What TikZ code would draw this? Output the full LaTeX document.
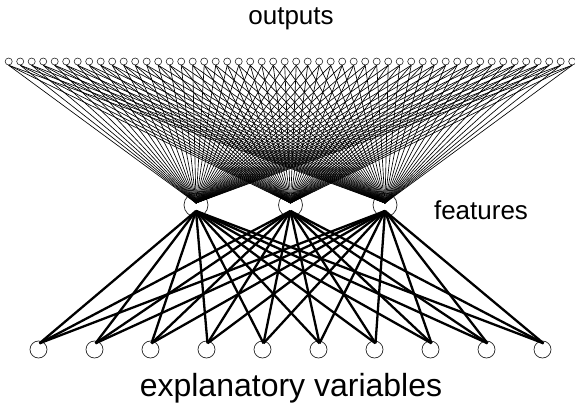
\documentclass[tikz,border=0pt]{standalone}
\usepackage{fontspec}
\setmainfont{Liberation Sans}
\begin{document}
\begin{tikzpicture}[x=1pt,y=1pt,
  outnode/.style={circle,draw=black!85,line width=0.6pt,minimum size=7pt,inner sep=0pt},
  featnode/.style={circle,draw=black!85,line width=0.7pt,minimum size=24pt,inner sep=0pt},
  varnode/.style={circle,draw=black!85,line width=0.7pt,minimum size=17pt,inner sep=0pt},
  thinedge/.style={line width=0.65pt,draw=black},
  thickedge/.style={line width=2.3pt,draw=black},
  lab/.style={font=\fontsize{26}{30}\selectfont,inner sep=0pt},
  biglab/.style={font=\fontsize{32}{36}\selectfont,inner sep=0pt}]
\useasboundingbox (0,0) rectangle (575,407);
% output nodes
\foreach \j in {0,...,49} {
  \node[outnode] (o\j) at ({8.7+11.5*\j},345.5) {};
}
% feature nodes
\foreach \i/\x in {1/196,2/290.5,3/385} {
  \node[featnode] (f\i) at (\x,202) {};
  \coordinate (ft\i) at (\x,204);
  \coordinate (fb\i) at (\x,196);
}
% explanatory variable nodes
\foreach \k in {0,...,9} {
  \node[varnode] (v\k) at ({38.5+56*\k},57.5) {};
  \coordinate (vt\k) at ({39.5+56*\k},63.7);
}
% edges features -> outputs
\foreach \i in {1,2,3} {
  \foreach \j in {0,...,49} {
    \draw[thinedge] (ft\i) -- (o\j.south);
  }
}
% edges variables -> features
\foreach \i in {1,2,3} {
  \foreach \k in {0,...,9} {
    \draw[thickedge] (fb\i) -- (vt\k);
  }
}
% labels
\node[lab] (louts) at (291,388) {outputs};
\node[lab] (lfeat) at (481,197) {features};
\node[biglab] (lvars) at (291,19) {explanatory variables};
\end{tikzpicture}
\end{document}
